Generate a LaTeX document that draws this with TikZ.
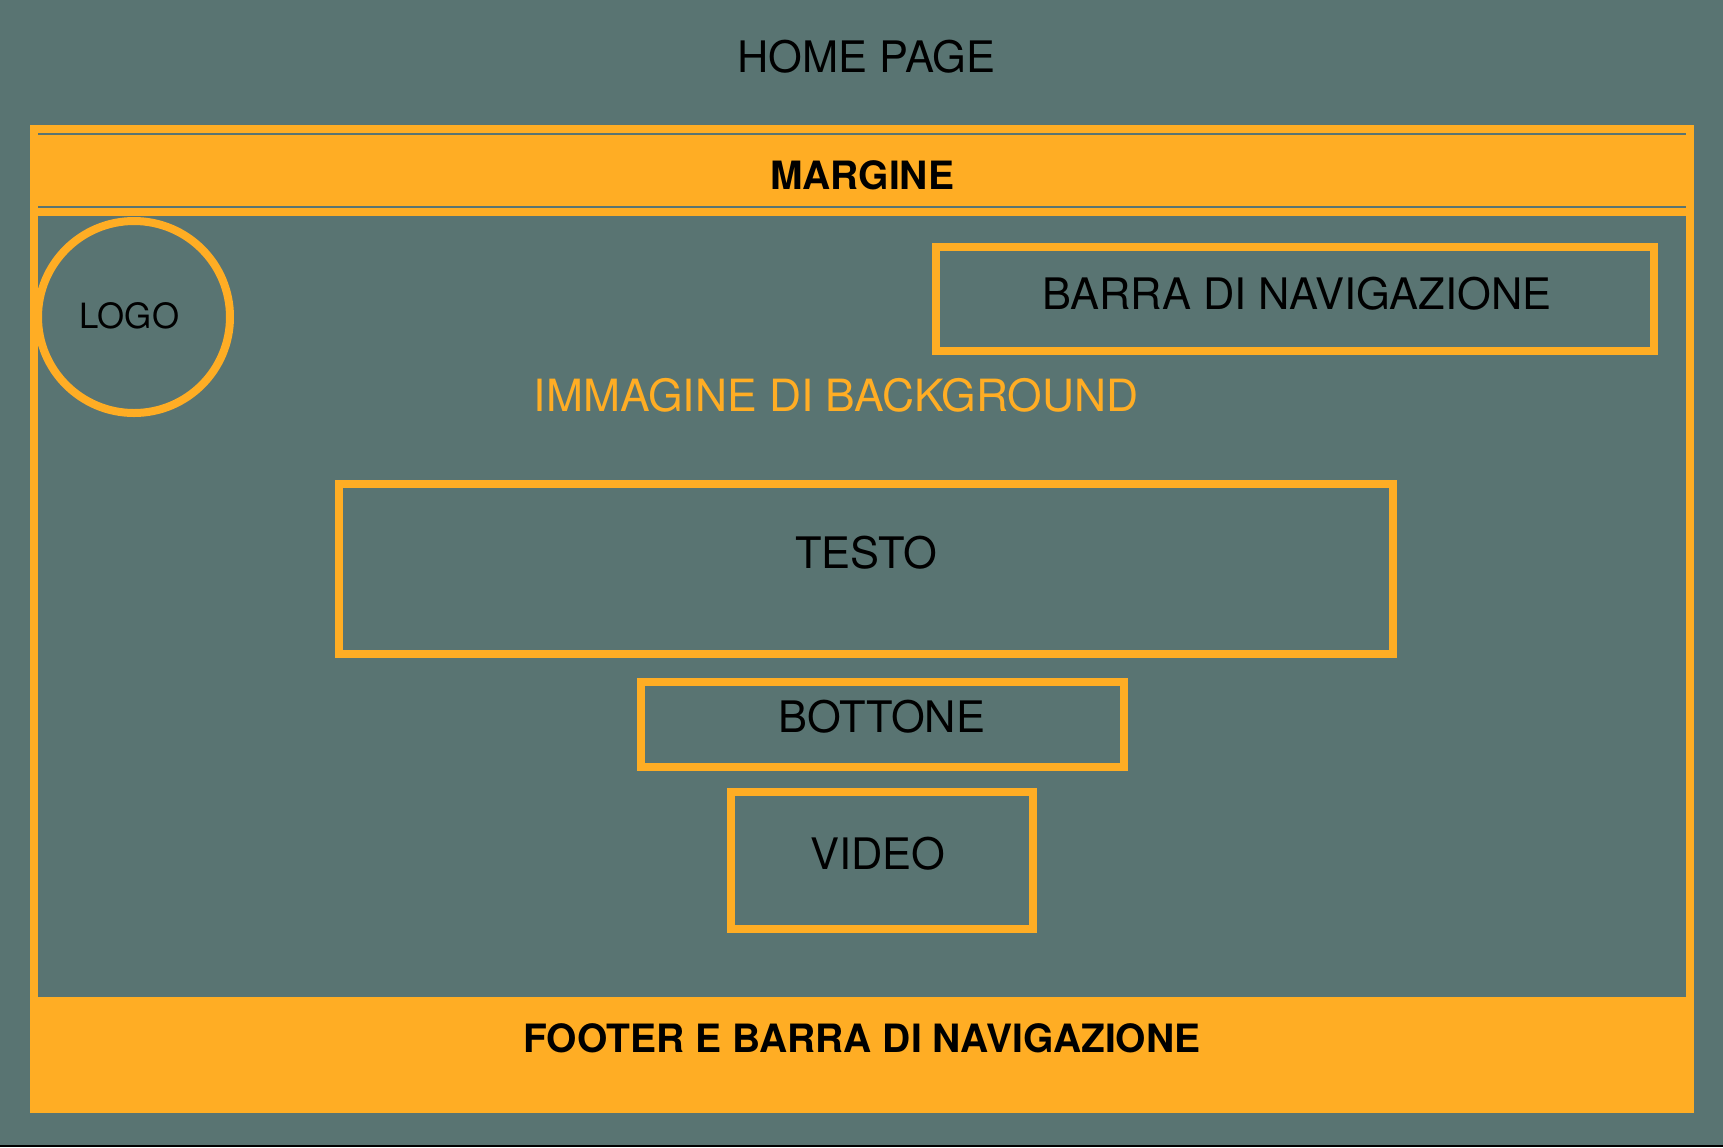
\documentclass[tikz,border=0pt]{standalone}
\usepackage{fontspec}
\setmainfont{TeX Gyre Heros}
\definecolor{bg}{RGB}{89,116,114}
\definecolor{org}{RGB}{255,173,36}
\begin{document}
\begin{tikzpicture}[x=0.5pt,y=-0.5pt,
 lbl/.style={anchor=base,inner sep=0pt,font=\fontsize{21.7}{25}\selectfont,text=black},
 blbl/.style={anchor=base,inner sep=0pt,font=\fontsize{19.5}{23}\selectfont\bfseries,text=black},
 frame/.style={draw=org,line width=4pt}]
\fill[bg] (0,0) rectangle (1723,1147);
\useasboundingbox (0,0) rectangle (1723,1147);
\fill[black] (0,1145) rectangle (1723,1147);
% outer frame
\fill[org] (30,125) rectangle (1694,1113);
\fill[bg] (38,216) rectangle (1686,997);
\fill[bg] (38,133) rectangle (1686,135);
\fill[bg] (38,206) rectangle (1686,208);
% elements
\draw[frame] (134,317) circle[radius=48pt];
\draw[frame] (936,247) rectangle (1654,351);
\draw[frame] (339,484) rectangle (1393,654);
\draw[frame] (641,682) rectangle (1124,767);
\draw[frame] (731,792) rectangle (1033,929);
% texts
\node[lbl] (home) at (866.5,72) {HOME PAGE};
\node[blbl] (margine) at (862,189) {MARGINE};
\node[lbl,font=\fontsize{17.4}{20}\selectfont] (logo) at (129.5,328) {LOGO};
\node[lbl] (nav) at (1297,309) {BARRA DI NAVIGAZIONE};
\node[lbl,text=org,font=\fontsize{22.2}{26}\selectfont] (bgimg) at (836,411) {IMMAGINE DI BACKGROUND};
\node[lbl] (testo) at (866,568) {TESTO};
\node[lbl] (bottone) at (882,732) {BOTTONE};
\node[lbl] (video) at (878,869) {VIDEO};
\node[blbl] (footer) at (862,1052) {FOOTER E BARRA DI NAVIGAZIONE};
\end{tikzpicture}
\end{document}
